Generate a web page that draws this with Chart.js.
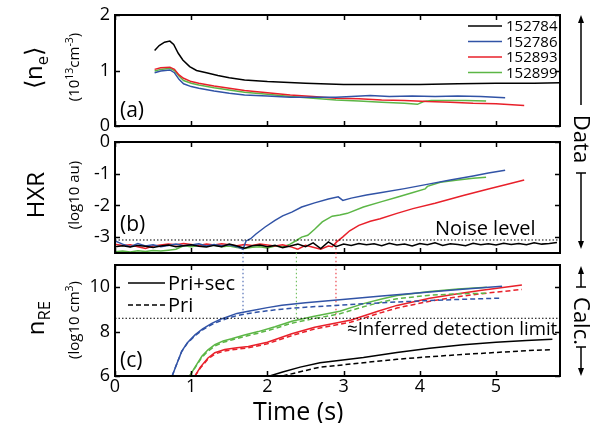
<!DOCTYPE html>
<html><head><meta charset="utf-8">
<script src="https://cdn.jsdelivr.net/npm/chart.js@4.4.1/dist/chart.umd.min.js"></script>
<style>
html,body{margin:0;padding:0;background:#fff;}
#wrap{position:relative;width:599px;height:423px;overflow:hidden;font-family:'Open Sans',sans-serif;color:#000;}
canvas{position:absolute;left:0;}
.t{position:absolute;white-space:nowrap;line-height:1;}
.rl{transform:translate(-50%,-50%) rotate(-90deg);}
.rr{transform:translate(-50%,-50%) rotate(90deg);}
.lm{transform:translate(0,-53%);}
sub,sup{font-size:70%;line-height:0;}
svg{position:absolute;left:0;top:0;}
</style></head><body>
<div id="wrap">
<canvas id="ca" width="599" height="140" style="top:0px"></canvas>
<canvas id="cb" width="599" height="140" style="top:128px"></canvas>
<canvas id="cc" width="599" height="173" style="top:250px"></canvas>

<div class="t rl" style="left:33px;top:68px;font-size:24px;">⟨n<sub>e</sub>⟩</div>
<div class="t rl" style="left:73px;top:67px;font-size:15px;">(10<sup>13</sup>cm<sup>-3</sup>)</div>
<div class="t rl" style="left:35px;top:195px;font-size:24px;">HXR</div>
<div class="t rl" style="left:73px;top:195px;font-size:15px;">(log10 au)</div>
<div class="t rl" style="left:35px;top:318px;font-size:24px;">n<sub>RE</sub></div>
<div class="t rl" style="left:73px;top:320px;font-size:15px;">(log10 cm<sup>3</sup>)</div>
<div class="t lm" style="left:253px;top:411px;font-size:25px;">Time (s)</div>

<div class="t lm" style="left:120px;top:110px;font-size:21px;">(a)</div>
<div class="t lm" style="left:120px;top:224px;font-size:21px;">(b)</div>
<div class="t lm" style="left:120px;top:360px;font-size:21px;">(c)</div>
<div class="t lm" style="left:435px;top:229px;font-size:20px;">Noise level</div>
<div class="t lm" style="left:347px;top:329px;font-size:18.6px;">≈Inferred detection limit</div>

<div class="t rr" style="left:583px;top:139px;font-size:22px;">Data</div>
<div class="t rr" style="left:583px;top:321px;font-size:22px;">Calc.</div>
<svg width="599" height="423">
 <g stroke="#000" stroke-width="1.5" fill="none">
  <line x1="581" y1="20" x2="581" y2="105"/>
  <line x1="581" y1="173" x2="581" y2="244"/><line x1="576" y1="173" x2="586" y2="173"/>
  <line x1="581" y1="271" x2="581" y2="287"/><line x1="576" y1="287" x2="586" y2="287"/>
  <line x1="581" y1="347" x2="581" y2="371"/><line x1="576" y1="347" x2="586" y2="347"/>
 </g>
 <g fill="#000">
  <polygon points="581,15 578,23 584,23"/>
  <polygon points="581,249 578,241 584,241"/>
  <polygon points="581,266 578,274 584,274"/>
  <polygon points="581,376 578,368 584,368"/>
 </g>
</svg>
</div>
<script>
// ---------------- DATA ----------------
const shots = ['152784','152786','152893','152899'];
const shotColors = ['#000000','#3153a6','#e8202a','#5cb646'];
const xMax = 5.84;

// panel (a): line-averaged density
const neT784 = [0.52,0.58,0.65,0.72,0.77,0.83,0.89,0.98,1.07,1.2,1.35,1.5,1.7,2.0,2.5,3.0,3.5,4.0,4.5,5.0,5.5,5.84];
const ne784  = [1.36,1.45,1.51,1.53,1.47,1.31,1.19,1.07,1.00,0.96,0.91,0.87,0.83,0.80,0.77,0.75,0.75,0.75,0.76,0.77,0.77,0.78];
const neT786 = [0.52,0.6,0.72,0.78,0.84,0.9,1.0,1.1,1.3,1.5,1.7,2.0,2.3,2.6,2.9,3.1,3.35,3.6,3.9,4.2,4.5,4.8,5.12];
const ne786  = [0.96,0.99,1.01,0.96,0.84,0.76,0.71,0.68,0.63,0.59,0.56,0.54,0.52,0.52,0.52,0.53,0.55,0.53,0.54,0.53,0.54,0.53,0.51];
const neT893 = [0.52,0.6,0.72,0.78,0.84,0.9,1.0,1.1,1.3,1.5,1.7,2.0,2.3,2.6,2.9,3.2,3.5,3.8,4.1,4.4,4.7,5.0,5.37];
const ne893  = [1.02,1.05,1.06,1.02,0.92,0.86,0.80,0.77,0.72,0.68,0.64,0.60,0.56,0.53,0.50,0.49,0.47,0.46,0.44,0.43,0.41,0.40,0.37];
const neT899 = [0.52,0.6,0.72,0.78,0.84,0.9,1.0,1.1,1.3,1.5,1.7,2.0,2.3,2.6,2.9,3.2,3.5,3.8,3.97,4.05,4.15,4.4,4.6,4.87];
const ne899  = [0.99,1.02,1.04,1.00,0.90,0.82,0.77,0.74,0.69,0.65,0.61,0.57,0.53,0.50,0.47,0.45,0.43,0.41,0.39,0.44,0.46,0.46,0.46,0.45];

// panel (b): HXR (log10 au)
const hxrT784 = [0,0.1,0.2,0.3,0.4,0.5,0.6,0.7,0.8,0.9,1.0,1.1,1.2,1.3,1.4,1.5,1.6,1.7,1.8,1.9,2.0,2.1,2.2,2.3,2.4,2.5,2.6,2.7,2.8,2.9,3.0,3.1,3.2,3.3,3.4,3.5,3.6,3.7,3.8,3.9,4.0,4.1,4.2,4.3,4.4,4.5,4.6,4.7,4.8,4.9,5.0,5.1,5.2,5.3,5.4,5.5,5.6,5.7,5.8];
const hxr784  = [-3.30,-3.27,-3.31,-3.26,-3.29,-3.33,-3.28,-3.25,-3.30,-3.27,-3.24,-3.29,-3.31,-3.26,-3.30,-3.22,-3.28,-3.35,-3.27,-3.25,-3.30,-3.26,-3.33,-3.28,-3.22,-3.30,-3.18,-3.36,-3.15,-3.30,-3.22,-3.26,-3.20,-3.24,-3.21,-3.27,-3.19,-3.25,-3.22,-3.28,-3.20,-3.24,-3.18,-3.26,-3.21,-3.23,-3.27,-3.19,-3.24,-3.21,-3.25,-3.19,-3.23,-3.20,-3.24,-3.18,-3.22,-3.20,-3.17];
const hxrT786 = [0,0.1,0.2,0.3,0.4,0.5,0.6,0.7,0.8,0.9,1.0,1.1,1.2,1.3,1.4,1.5,1.6,1.68,1.72,1.78,1.85,1.97,2.1,2.2,2.32,2.45,2.62,2.8,2.93,2.99,3.1,3.3,3.48,3.8,4.13,4.4,4.7,4.9,5.12];
const hxr786  = [-3.12,-3.22,-3.30,-3.20,-3.28,-3.24,-3.30,-3.26,-3.22,-3.27,-3.25,-3.21,-3.28,-3.23,-3.27,-3.24,-3.30,-3.38,-3.12,-3.05,-2.90,-2.68,-2.47,-2.33,-2.21,-2.05,-1.92,-1.80,-1.73,-1.84,-1.77,-1.67,-1.60,-1.47,-1.32,-1.20,-1.07,-0.98,-0.89];
const hxrT893 = [0,0.1,0.2,0.3,0.4,0.5,0.6,0.7,0.8,0.9,1.0,1.1,1.2,1.3,1.4,1.5,1.6,1.7,1.8,1.9,2.0,2.1,2.2,2.3,2.4,2.5,2.6,2.7,2.8,2.85,2.91,2.99,3.08,3.2,3.35,3.48,3.7,3.91,4.2,4.57,4.9,5.15,5.37];
const hxr893  = [-3.22,-3.26,-3.24,-3.30,-3.36,-3.28,-3.25,-3.22,-3.24,-3.20,-3.23,-3.26,-3.22,-3.25,-3.21,-3.24,-3.27,-3.23,-3.26,-3.22,-3.25,-3.28,-3.24,-3.30,-3.38,-3.26,-3.32,-3.38,-3.28,-3.30,-3.15,-2.99,-2.80,-2.63,-2.50,-2.42,-2.25,-2.10,-1.93,-1.69,-1.48,-1.33,-1.20];
const hxrT899 = [0,0.1,0.2,0.3,0.4,0.5,0.6,0.7,0.8,0.9,1.0,1.1,1.2,1.3,1.4,1.5,1.6,1.7,1.8,1.9,2.0,2.1,2.2,2.3,2.39,2.45,2.53,2.62,2.72,2.85,2.95,3.05,3.26,3.5,3.7,3.9,4.07,4.1,4.27,4.5,4.7,4.87];
const hxr899  = [-3.46,-3.44,-3.47,-3.43,-3.45,-3.42,-3.44,-3.41,-3.38,-3.27,-3.30,-3.26,-3.29,-3.25,-3.30,-3.28,-3.33,-3.36,-3.32,-3.30,-3.34,-3.28,-3.31,-3.22,-3.09,-3.00,-2.94,-2.75,-2.52,-2.34,-2.30,-2.25,-2.05,-1.88,-1.74,-1.60,-1.48,-1.40,-1.27,-1.20,-1.14,-1.11];
const noiseLevel = -3.09;

// panel (c): calculated runaway density (log10 cm^3); Pri+sec (solid) and Pri (dashed)
const calcT784 = [2.03,2.2,2.43,2.69,2.99,3.26,3.7,4.13,4.57,5.0,5.4,5.74];
const calc784  = [6.0,6.18,6.4,6.6,6.72,6.83,7.06,7.25,7.41,7.52,7.6,7.66];
const priT784  = [2.2,2.43,2.69,2.99,3.26,3.7,4.13,4.57,5.0,5.4,5.74];
const pri784   = [6.0,6.19,6.4,6.5,6.6,6.75,6.87,6.97,7.06,7.14,7.19];
const calcT786 = [0.75,0.8,0.875,0.95,1.05,1.15,1.27,1.38,1.48,1.6,1.75,2.0,2.19,2.5,2.95,3.5,4.13,4.6,5.08];
const calc786  = [6.0,6.45,7.11,7.5,7.85,8.12,8.37,8.55,8.67,8.82,8.92,9.08,9.19,9.30,9.44,9.60,9.78,9.92,10.04];
const pri786   = [6.0,6.45,7.1,7.48,7.82,8.08,8.32,8.48,8.6,8.72,8.82,8.94,9.01,9.10,9.19,9.30,9.40,9.46,9.51];
const calcT893 = [1.05,1.12,1.22,1.31,1.44,1.6,1.75,2.0,2.32,2.62,2.95,3.1,3.26,3.45,3.7,4.13,4.5,4.79,5.34];
const calc893  = [6.0,6.4,6.81,7.05,7.19,7.27,7.33,7.52,7.9,8.2,8.42,8.52,8.70,8.92,9.18,9.5,9.7,9.85,10.1];
const pri893   = [6.0,6.36,6.76,6.99,7.13,7.21,7.27,7.45,7.82,8.12,8.33,8.43,8.60,8.81,9.06,9.37,9.57,9.70,9.90];
const calcT899 = [0.98,1.05,1.14,1.22,1.31,1.42,1.53,1.7,1.88,2.1,2.32,2.6,2.95,3.26,3.5,3.7,4.13,4.5,4.88];
const calc899  = [6.0,6.4,6.89,7.18,7.41,7.58,7.68,7.85,8.0,8.22,8.47,8.68,8.92,9.26,9.47,9.63,9.81,9.92,10.0];
const pri899   = [6.0,6.37,6.84,7.12,7.35,7.52,7.62,7.78,7.93,8.14,8.38,8.58,8.80,9.12,9.33,9.48,9.64,9.70,9.73];
const detectLimit = 8.6;
const calcLegend = ['Pri+sec','Pri'];

// detection times (dotted markers) for 152786, 152899, 152893
const detT = [1.68, 2.38, 2.9];
const detColor = ['#3153a6','#5cb646','#e8202a'];
const detCalcEnd = [8.9, 8.6, 8.6];
const gapTop = 11.55;

// --------------- HELPERS ---------------
const zip = (xs, ys) => xs.map((x, i) => ({x, y: ys[i]}));
const FONT = "'Open Sans', sans-serif";
function series(xs, ys, color, dash, label, w) {
  return {label: label || '', data: zip(xs, ys), borderColor: color, borderWidth: w || 1.5,
    borderDash: dash || [], pointRadius: 0, fill: false, tension: 0};
}

const framePlugin = {
  id: 'frame',
  afterDatasetsDraw(chart) {
    const {ctx, chartArea: {left, right, top, bottom}} = chart;
    const xs = chart.scales.x, ys = chart.scales.y;
    ctx.save();
    ctx.strokeStyle = '#000';
    ctx.lineWidth = 1.5;
    const L = 5;
    ctx.beginPath();
    xs.ticks.forEach(t => { const p = Math.round(xs.getPixelForValue(t.value)) + 0.5;
      ctx.moveTo(p, top); ctx.lineTo(p, top + L); ctx.moveTo(p, bottom); ctx.lineTo(p, bottom - L); });
    ys.ticks.forEach(t => { const p = Math.round(ys.getPixelForValue(t.value)) + 0.5;
      ctx.moveTo(left, p); ctx.lineTo(left + L, p); ctx.moveTo(right, p); ctx.lineTo(right - L, p); });
    ctx.stroke();
    ctx.lineWidth = 2;
    ctx.strokeRect(Math.round(left), Math.round(top), Math.round(right - left), Math.round(bottom - top));
    ctx.restore();
  }
};

const legendPlugin = {
  id: 'lineLegend',
  afterDraw(chart, args, o) {
    if (!o || !o.items) return;
    const ctx = chart.ctx;
    ctx.save();
    ctx.font = o.size + 'px ' + FONT;
    ctx.textBaseline = 'middle';
    ctx.fillStyle = '#000';
    o.items.forEach((it, i) => {
      const y = o.y + i * o.dy;
      ctx.beginPath();
      ctx.strokeStyle = it.color; ctx.lineWidth = 1.6; ctx.setLineDash(it.dash || []);
      ctx.moveTo(o.x0, y); ctx.lineTo(o.x1, y); ctx.stroke();
      ctx.setLineDash([]);
      ctx.fillText(it.label, o.tx, y + 1);
    });
    ctx.restore();
  }
};

function baseOptions(yMin, yMax, yStep, pad, xH, showX) {
  return {
    responsive: false, animation: false,
    layout: {padding: pad},
    plugins: {legend: {display: false}, tooltip: {enabled: false}},
    scales: {
      x: {type: 'linear', min: 0, max: xMax,
        ticks: {stepSize: 1, includeBounds: false, display: showX, padding: 0,
          color: '#000', font: {family: FONT, size: 18}},
        grid: {display: false, drawTicks: false}, border: {display: false},
        afterFit: s => { s.height = xH; s.paddingLeft = 0; s.paddingRight = 0; }},
      y: {type: 'linear', min: yMin, max: yMax,
        ticks: {stepSize: yStep, includeBounds: false, padding: 5,
          color: '#000', font: {family: FONT, size: 18}},
        grid: {display: false, drawTicks: false}, border: {display: false},
        afterFit: s => { s.width = 115; s.paddingTop = 0; s.paddingBottom = 0; }}
    }
  };
}

// --------------- PANEL A ---------------
const optA = baseOptions(0, 2, 1, {top: 15, bottom: 0, left: 0, right: 39}, 14, false);
optA.plugins.lineLegend = {x0: 468, x1: 502, tx: 506, y: 26, dy: 15.5, size: 15,
  items: shots.map((s, i) => ({label: s, color: shotColors[i]}))};
new Chart(document.getElementById('ca'), {
  type: 'line',
  data: {datasets: [
    series(neT784, ne784, shotColors[0]),
    series(neT786, ne786, shotColors[1]),
    series(neT893, ne893, shotColors[2]),
    series(neT899, ne899, shotColors[3])
  ]},
  options: optA, plugins: [framePlugin, legendPlugin]
});

// --------------- PANEL B ---------------
const optB = baseOptions(-3.5, 0, 1, {top: 14, bottom: 0, left: 0, right: 39}, 15, false);
const dsB = [
  series([0, xMax], [noiseLevel, noiseLevel], '#000', [1.5, 2], '', 1),
  series(hxrT784, hxr784, shotColors[0]),
  series(hxrT786, hxr786, shotColors[1]),
  series(hxrT893, hxr893, shotColors[2]),
  series(hxrT899, hxr899, shotColors[3])
];
detT.forEach((t, i) => { const d = series([t, t], [noiseLevel, -3.5], detColor[i], [1.5, 2.5], '', 1); d.clip = false; dsB.push(d); });
new Chart(document.getElementById('cb'), {
  type: 'line', data: {datasets: dsB}, options: optB, plugins: [framePlugin]
});

// --------------- PANEL C ---------------
const optC = baseOptions(6, 11, 2, {top: 15, bottom: 0, left: 0, right: 39}, 47, true);
optC.plugins.lineLegend = {x0: 128, x1: 165, tx: 168, y: 33, dy: 22, size: 20,
  items: [{label: calcLegend[0], color: '#000'}, {label: calcLegend[1], color: '#000', dash: [5, 3]}]};
const dsC = [
  series([0, xMax], [detectLimit, detectLimit], '#000', [1.5, 2], '', 1),
  series(calcT784, calc784, shotColors[0]),
  series(priT784, pri784, shotColors[0], [5, 3]),
  series(calcT786, calc786, shotColors[1]),
  series(calcT786, pri786, shotColors[1], [5, 3]),
  series(calcT899, calc899, shotColors[3]),
  series(calcT899, pri899, shotColors[3], [5, 3]),
  series(calcT893, calc893, shotColors[2]),
  series(calcT893, pri893, shotColors[2], [5, 3])
];
detT.forEach((t, i) => { const d = series([t, t], [gapTop, detCalcEnd[i]], detColor[i], [1.5, 2.5], '', 1); d.clip = false; dsC.push(d); });
new Chart(document.getElementById('cc'), {
  type: 'line', data: {datasets: dsC}, options: optC, plugins: [framePlugin, legendPlugin]
});
</script>
</body></html>
